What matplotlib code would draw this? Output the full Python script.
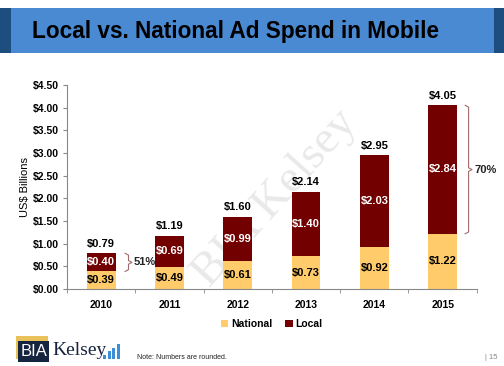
import matplotlib
matplotlib.use('Agg')

import matplotlib.pyplot as plt
from matplotlib.patches import Rectangle
import numpy as np

years = ['2010', '2011', '2012', '2013', '2014', '2015']
national = [0.39, 0.49, 0.61, 0.73, 0.92, 1.22]
local = [0.40, 0.69, 0.99, 1.40, 2.03, 2.84]
totals = [0.79, 1.19, 1.60, 2.14, 2.95, 4.05]
yticks = [0, 0.5, 1.0, 1.5, 2.0, 2.5, 3.0, 3.5, 4.0, 4.5]

c_nat = '#FFCB6B'
c_loc = '#720000'
c_brk = '#A06A6A'

plt.rcParams['font.family'] = ['Liberation Sans', 'DejaVu Sans']

fig = plt.figure(figsize=(5.04, 3.66), dpi=100)
fig.patch.set_facecolor('white')

# title banner
fig.patches.append(Rectangle((0, 0.855), 1, 0.123, transform=fig.transFigure,
                             facecolor='#4A8AD2', edgecolor='none'))
fig.patches.append(Rectangle((0, 0.855), 0.022, 0.123, transform=fig.transFigure,
                             facecolor='#1E4E80', edgecolor='none'))
fig.patches.append(Rectangle((0.98, 0.855), 0.02, 0.123, transform=fig.transFigure,
                             facecolor='#1E4E80', edgecolor='none'))
fig.text(0.063, 0.915, 'Local vs. National Ad Spend in Mobile', fontsize=16.3,
         fontweight='bold', color='black', va='center', ha='left')

ax = fig.add_axes([0.133, 0.210, 0.813, 0.558])
x = np.arange(len(years))
w = 0.42

# faint watermark
ax.text(2.55, 2.0, 'BIA Kelsey', fontsize=34, family='Liberation Serif', color='#C8C8CC',
        alpha=0.4, rotation=48, ha='center', va='center', zorder=0)

ax.bar(x, national, w, color=c_nat, label='National', zorder=2)
ax.bar(x, local, w, bottom=national, color=c_loc, label='Local', zorder=2)

for i in range(len(years)):
    ax.text(x[i], national[i] / 2, '$%.2f' % national[i], ha='center', va='center',
            fontsize=8, fontweight='bold', color='black', zorder=3)
    ax.text(x[i], national[i] + local[i] / 2, '$%.2f' % local[i], ha='center', va='center',
            fontsize=8, fontweight='bold', color='white', zorder=3)
    ax.text(x[i], totals[i] + 0.1, '$%.2f' % totals[i], ha='center', va='bottom',
            fontsize=8, fontweight='bold', color='black', zorder=3)


def bracket(xb, lo, hi, label):
    d = 0.05
    mid = (lo + hi) / 2
    ax.plot([xb - d, xb, xb, xb + d, xb, xb, xb - d],
            [hi, hi - 0.04, mid + 0.04, mid, mid - 0.04, lo + 0.04, lo],
            color=c_brk, lw=0.8, zorder=3)
    ax.text(xb + d + 0.03, mid, label, ha='left', va='center', fontsize=8,
            fontweight='bold', color='#222222')


bracket(0.40, national[0], totals[0], '51%')
bracket(5.38, national[5], totals[5], '70%')

ax.set_xlim(-0.5, 5.5)
ax.set_ylim(0, 4.5)
ax.set_yticks(yticks)
ax.set_yticklabels(['$%.2f' % v for v in yticks], fontsize=7.5, fontweight='bold')
ax.set_xticks(x)
ax.set_xticklabels(years, fontsize=7.5, fontweight='bold')
ax.tick_params(axis='y', length=3, color='#888888', pad=3)
ax.tick_params(axis='x', length=0, pad=8)
ax.set_xticks(np.arange(-0.5, 6, 1), minor=True)
ax.tick_params(axis='x', which='minor', length=3, color='#888888', direction='out')
for s in ['top', 'right']:
    ax.spines[s].set_visible(False)
ax.spines['left'].set_color('#888888')
ax.spines['bottom'].set_color('#888888')
ax.set_ylabel('US$ Billions', fontsize=8, labelpad=2)
ax.set_facecolor('none')

leg = ax.legend(loc='upper center', bbox_to_anchor=(0.5, -0.1), ncol=2, frameon=False,
                fontsize=7.5, handlelength=0.7, handleheight=0.7, handletextpad=0.3,
                columnspacing=1.2)
for t in leg.get_texts():
    t.set_fontweight('bold')

# footer logo
fig.patches.append(Rectangle((0.031, 0.02), 0.065, 0.062, transform=fig.transFigure,
                             facecolor='#E8C15A', edgecolor='none'))
fig.patches.append(Rectangle((0.036, 0.01), 0.062, 0.058, transform=fig.transFigure,
                             facecolor='#15243F', edgecolor='none'))
fig.text(0.067, 0.039, 'BIA', fontsize=12, color='white', ha='center', va='center')
fig.text(0.103, 0.043, 'Kelsey', fontsize=14, family='Liberation Serif', color='#15243F',
         ha='left', va='center')
for k, hgt in enumerate([0.012, 0.022, 0.032, 0.042]):
    fig.patches.append(Rectangle((0.205 + k * 0.009, 0.018), 0.006, hgt,
                                 transform=fig.transFigure, facecolor='#3A8FD8',
                                 edgecolor='none'))
fig.text(0.272, 0.022, 'Note: Numbers are rounded.', fontsize=5, color='#222222',
         ha='left', va='center')
fig.text(0.962, 0.022, '| 15', fontsize=5.5, color='#888888', ha='left', va='center')

plt.savefig('out.png', dpi=100)
